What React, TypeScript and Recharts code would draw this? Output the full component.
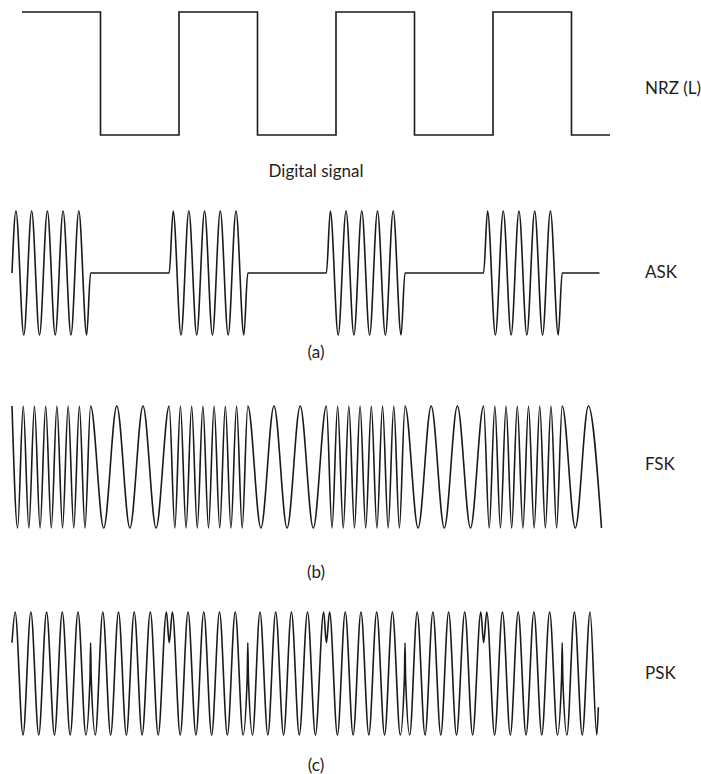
import { LineChart, Line, XAxis, YAxis } from "recharts";

// bit sequence shown by the NRZ-L line, in bit periods
const nrzTimes = [0, 1, 2, 3, 4, 5, 6, 7, 7.49];
const nrzLevels = [1, 0, 1, 0, 1, 0, 1, 0, 0];

// ASK: time in quarter carrier periods (20 per bit), amplitude -1..1
const askPoints: [number, number][] = [
  [0, 0], [1, 1], [3, -1], [5, 1], [7, -1], [9, 1], [11, -1], [13, 1], [15, -1], [17, 1], [19, -1], [20, 0],
  [40, 0], [41, 1], [43, -1], [45, 1], [47, -1], [49, 1], [51, -1], [53, 1], [55, -1], [57, 1], [59, -1], [60, 0],
  [80, 0], [81, 1], [83, -1], [85, 1], [87, -1], [89, 1], [91, -1], [93, 1], [95, -1], [97, 1], [99, -1], [100, 0],
  [120, 0], [121, 1], [123, -1], [125, 1], [127, -1], [129, 1], [131, -1], [133, 1], [135, -1], [137, 1], [139, -1], [140, 0],
  [149.5, 0],
];

// FSK: time in 1/42 bit, peaks and troughs of the two carriers
const fskPoints: [number, number][] = [
  [0, 1], [3, -1], [6, 1], [9, -1], [12, 1], [15, -1], [18, 1], [21, -1], [24, 1], [27, -1], [30, 1], [33, -1], [36, 1], [39, -1], [42, 1],
  [49, -1], [56, 1], [63, -1], [70, 1], [77, -1], [84, 1],
  [87, -1], [90, 1], [93, -1], [96, 1], [99, -1], [102, 1], [105, -1], [108, 1], [111, -1], [114, 1], [117, -1], [120, 1], [123, -1], [126, 1],
  [133, -1], [140, 1], [147, -1], [154, 1], [161, -1], [168, 1],
  [171, -1], [174, 1], [177, -1], [180, 1], [183, -1], [186, 1], [189, -1], [192, 1], [195, -1], [198, 1], [201, -1], [204, 1], [207, -1], [210, 1],
  [217, -1], [224, 1], [231, -1], [238, 1], [245, -1], [252, 1],
  [255, -1], [258, 1], [261, -1], [264, 1], [267, -1], [270, 1], [273, -1], [276, 1], [279, -1], [282, 1], [285, -1], [288, 1], [291, -1], [294, 1],
  [301, -1], [308, 1], [315, -1],
];

// PSK: time in quarter carrier periods, with the glitches drawn at each phase change
const pskPoints: [number, number][] = [
  [0, 0.5], [0.8, 1], [2.8, -1], [4.8, 1], [6.8, -1], [8.8, 1], [10.8, -1], [12.8, 1], [14.8, -1], [16.8, 1], [18.8, -1],
  [19.85, -0.07], [20, 0.5], [20.15, -0.07],
  [21.2, -1], [23.1, 1], [25.1, -1], [27.1, 1], [29.1, -1], [31.1, 1], [33.1, -1], [35.2, 1], [37.2, -1], [39.3, 1], [40, 0.5],
  [40.8, 1], [42.8, -1], [44.8, 1], [46.8, -1], [48.8, 1], [50.8, -1], [52.8, 1], [54.8, -1], [56.8, 1], [58.8, -1],
  [59.85, -0.07], [60, 0.5], [60.15, -0.07],
  [61.2, -1], [63.1, 1], [65.1, -1], [67.1, 1], [69.1, -1], [71.1, 1], [73.1, -1], [75.2, 1], [77.2, -1], [79.3, 1], [80, 0.5],
  [80.8, 1], [82.8, -1], [84.8, 1], [86.8, -1], [88.8, 1], [90.8, -1], [92.8, 1], [94.8, -1], [96.8, 1], [98.8, -1],
  [99.85, -0.07], [100, 0.5], [100.15, -0.07],
  [101.2, -1], [103.1, 1], [105.1, -1], [107.1, 1], [109.1, -1], [111.1, 1], [113.1, -1], [115.2, 1], [117.2, -1], [119.3, 1], [120, 0.5],
  [120.8, 1], [122.8, -1], [124.8, 1], [126.8, -1], [128.8, 1], [130.8, -1], [132.8, 1], [134.8, -1], [136.8, 1], [138.8, -1],
  [139.85, -0.07], [140, 0.5], [140.15, -0.07],
  [141.2, -1], [143.1, 1], [145.1, -1], [147.1, 1], [148.8, -1], [149.2, -0.55],
];

const nrzData = nrzTimes.map((t, i) => ({ t, v: nrzLevels[i] }));
const toRows = (pts: [number, number][]) => pts.map(([t, v]) => ({ t, v }));

const INK = "#1a1a1a";
const M = 4;

type Box = { left: number; top: number; width: number; height: number };

function Wave({ data, xMax, yDomain, box, curve }: {
  data: { t: number; v: number }[];
  xMax: number;
  yDomain: [number, number];
  box: Box;
  curve: "monotone" | "stepAfter";
}) {
  return (
    <div style={{ position: "absolute", left: box.left, top: box.top }}>
      <LineChart width={box.width} height={box.height} data={data} margin={{ top: M, right: M, bottom: M, left: M }}>
        <XAxis dataKey="t" type="number" domain={[0, xMax]} hide />
        <YAxis type="number" domain={yDomain} hide />
        <Line dataKey="v" type={curve} stroke={INK} strokeWidth={1.6} dot={false} isAnimationActive={false} />
      </LineChart>
    </div>
  );
}

const labelStyle = {
  position: "absolute" as const,
  fontFamily: "Lato, 'Open Sans', sans-serif",
  fontSize: 17,
  lineHeight: "20px",
  color: "#1f1c1d",
  whiteSpace: "nowrap" as const,
};

function Label({ text, x, y, center }: { text: string; x: number; y: number; center?: boolean }) {
  return (
    <div style={{ ...labelStyle, left: x, top: y - 10, transform: center ? "translateX(-50%)" : undefined }}>
      {text}
    </div>
  );
}

export default function App() {
  return (
    <div style={{ position: "absolute", left: 0, top: 0, width: 701, height: 774, background: "#fff" }}>
      <Wave data={nrzData} xMax={7.5} yDomain={[0, 1]} curve="stepAfter"
        box={{ left: 22 - M, top: 12 - M, width: 588.75 + 2 * M, height: 123 + 2 * M }} />
      <Wave data={toRows(askPoints)} xMax={150} yDomain={[-1, 1]} curve="monotone"
        box={{ left: 12 - M, top: 211 - M, width: 589.5 + 2 * M, height: 124 + 2 * M }} />
      <Wave data={toRows(fskPoints)} xMax={315} yDomain={[-1, 1]} curve="monotone"
        box={{ left: 12 - M, top: 406 - M, width: 589.5 + 2 * M, height: 122 + 2 * M }} />
      <Wave data={toRows(pskPoints)} xMax={150} yDomain={[-1, 1]} curve="monotone"
        box={{ left: 12 - M, top: 612 - M, width: 589.5 + 2 * M, height: 123 + 2 * M }} />

      <Label text="NRZ (L)" x={645} y={88} />
      <Label text="Digital signal" x={316} y={171} center />
      <Label text="ASK" x={645} y={272} />
      <Label text="(a)" x={316} y={352} center />
      <Label text="FSK" x={645} y={464} />
      <Label text="(b)" x={316} y={572} center />
      <Label text="PSK" x={645} y={673} />
      <Label text="(c)" x={316} y={765} center />
    </div>
  );
}
